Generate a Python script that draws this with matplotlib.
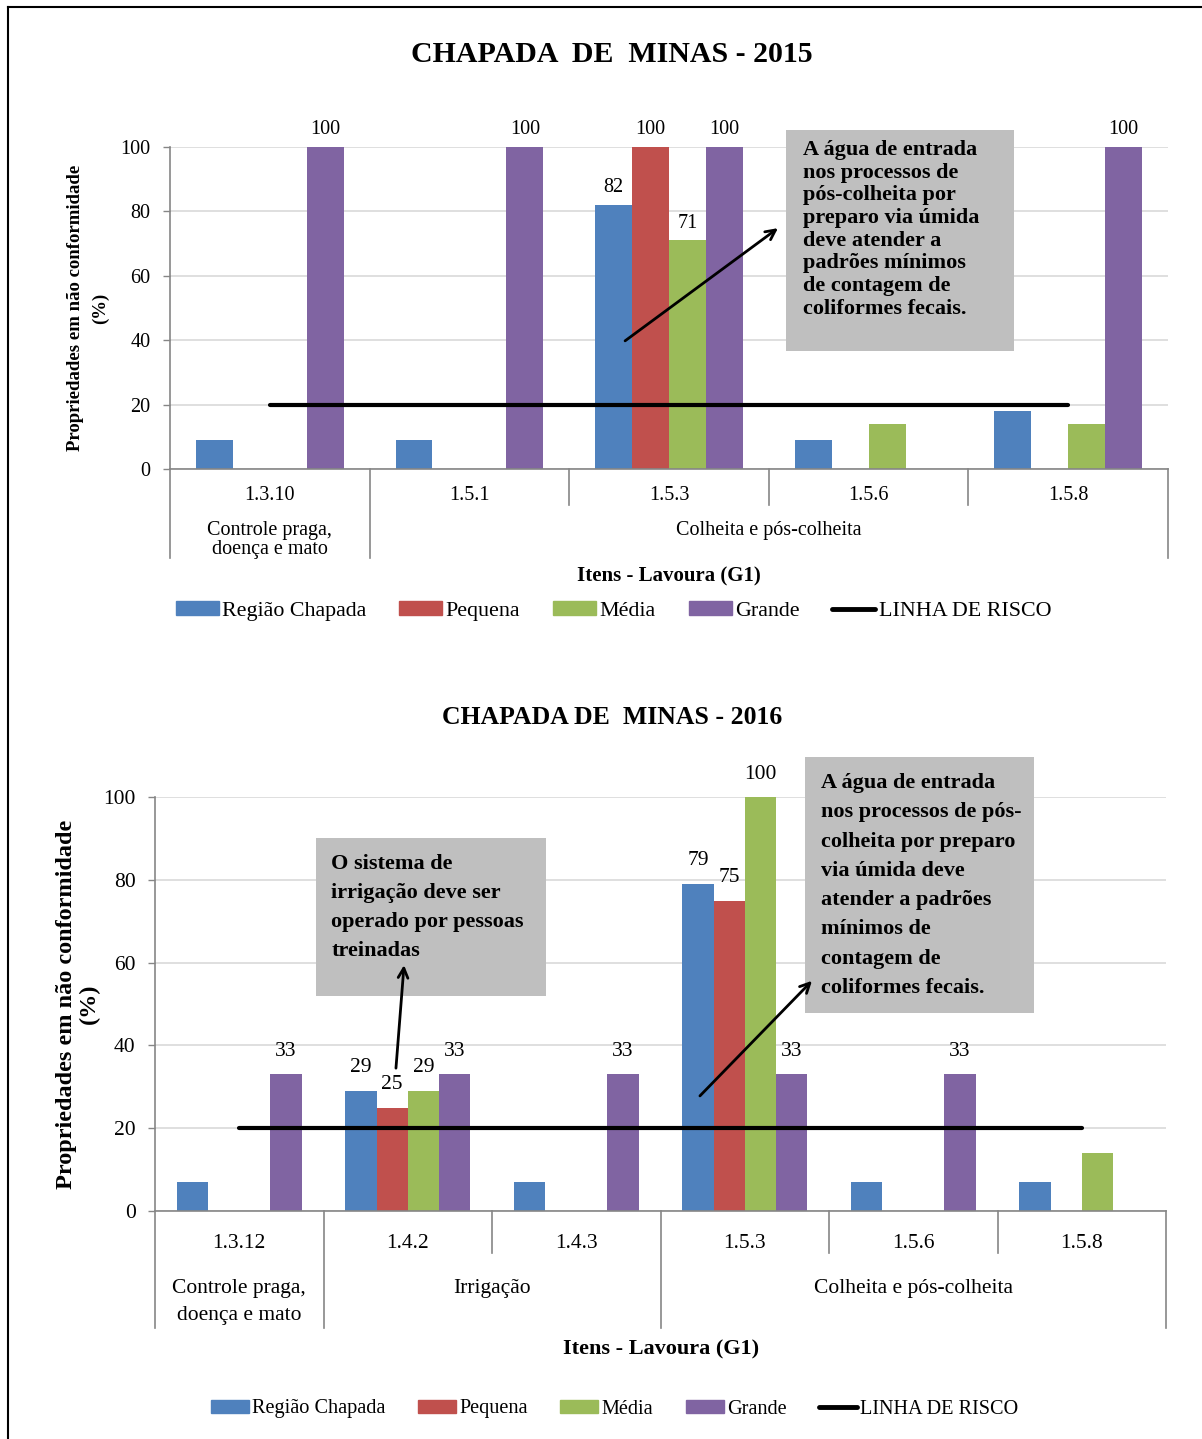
import numpy as np
import matplotlib.pyplot as plt
import matplotlib.patches as mpatches
from matplotlib.lines import Line2D

plt.rcParams['font.family'] = 'Liberation Serif'

W, H = 1202, 1439

# Series shared by both years
series = ['Região Chapada', 'Pequena', 'Média', 'Grande']
colors = ['#4f81bd', '#c0504d', '#9bbb59', '#8064a2']
risk_level = 20

# 2015 data (% of properties not conforming)
items_2015 = ['1.3.10', '1.5.1', '1.5.3', '1.5.6', '1.5.8']
regiao_2015 = [9, 9, 82, 9, 18]
pequena_2015 = [0, 0, 100, 0, 0]
media_2015 = [0, 0, 71, 14, 14]
grande_2015 = [100, 100, 100, 0, 100]
groups_2015 = [('Controle praga,\ndoença e mato', 0, 0),
               ('Colheita e pós-colheita', 1, 4)]

# 2016 data
items_2016 = ['1.3.12', '1.4.2', '1.4.3', '1.5.3', '1.5.6', '1.5.8']
regiao_2016 = [7, 29, 7, 79, 7, 7]
pequena_2016 = [0, 25, 0, 75, 0, 0]
media_2016 = [0, 29, 0, 100, 0, 14]
grande_2016 = [33, 33, 33, 33, 33, 0]
groups_2016 = [('Controle praga,\ndoença e mato', 0, 0),
               ('Irrigação', 1, 2),
               ('Colheita e pós-colheita', 3, 5)]

note_agua_2015 = ('A água de entrada\nnos processos de\npós-colheita por\npreparo via úmida\n'
                  'deve atender a\npadrões mínimos\nde contagem de\ncoliformes fecais.')
note_agua_2016 = ('A água de entrada\nnos processos de pós-\ncolheita por preparo\nvia úmida deve\n'
                  'atender a padrões\nmínimos de\ncontagem de\ncoliformes fecais.')
note_irrig_2016 = 'O sistema de\nirrigação deve ser\noperado por pessoas\ntreinadas'

fig = plt.figure(figsize=(W / 100, H / 100), dpi=100)


def px_axes(left, top, right, bottom):
    return fig.add_axes([left / W, 1 - bottom / H, (right - left) / W, (bottom - top) / H])


def draw_panel(ax, items, values, groups, fs, label_off, tick_off, grp_off,
               sep_short, sep_long, grp_ls):
    n = len(items)
    x = np.arange(n)
    width = 0.185
    for j, (vals, color) in enumerate(zip(values, colors)):
        bars = ax.bar(x + (j - 1.5) * width, vals, width, color=color, zorder=2)
        for rect, v in zip(bars, vals):
            # only the bars above the risk line carry a value label
            if v >= risk_level:
                ax.annotate(f'{v}', (rect.get_x() + rect.get_width() / 2, v),
                            xytext=(0, label_off), textcoords='offset pixels',
                            ha='center', va='center', fontsize=fs)
    ax.plot([x[0], x[-1]], [risk_level, risk_level], color='black', lw=3,
            solid_capstyle='round', zorder=4)

    ax.set_xlim(-0.5, n - 0.5)
    ax.set_ylim(0, 100)
    ax.set_yticks(range(0, 101, 20))
    ax.set_xticks([])
    ax.tick_params(axis='y', direction='out', length=5, width=1, color='#868686',
                   labelsize=fs, pad=9)
    ax.yaxis.grid(True, color='#d9d9d9', lw=1.2)
    ax.set_axisbelow(True)
    for side in ['top', 'right']:
        ax.spines[side].set_visible(False)
    for side in ['left', 'bottom']:
        ax.spines[side].set_color('#868686')
        ax.spines[side].set_linewidth(1.2)

    # two-level category axis: item codes and their groups
    trans = ax.get_xaxis_transform()
    axh = ax.get_position().height * H
    long_edges = {g[1] - 0.5 for g in groups} | {n - 0.5}
    for b in np.arange(n + 1) - 0.5:
        length = sep_long if b in long_edges else sep_short
        ax.plot([b, b], [0, -length / axh], transform=trans, color='#868686',
                lw=1.2, clip_on=False)
    for i, item in enumerate(items):
        ax.annotate(item, (i, 0), xycoords=trans, xytext=(0, -tick_off),
                    textcoords='offset pixels', ha='center', va='center', fontsize=fs)
    for name, a, b in groups:
        ax.annotate(name, ((a + b) / 2, 0), xycoords=trans, xytext=(0, -grp_off),
                    textcoords='offset pixels', ha='center', va='top', fontsize=fs,
                    linespacing=grp_ls)


def note(ax, text, x0, x1, y0, y1, tx, ty, fs, ls):
    ax.add_patch(mpatches.Rectangle((x0, y0), x1 - x0, y1 - y0, facecolor='#bfbfbf',
                                    edgecolor='none', zorder=5, clip_on=False))
    ax.text(tx, ty, text, ha='left', va='top', fontsize=fs, fontweight='bold',
            linespacing=ls, zorder=6, clip_on=False)


def pointer(ax, start, end):
    ax.annotate('', xy=end, xytext=start,
                arrowprops=dict(arrowstyle='->,head_length=0.7,head_width=0.35',
                                color='black', lw=2, shrinkA=0, shrinkB=0),
                zorder=7, annotation_clip=False)


def legend(fs, left_px, y_px, hl, cs):
    handles = [mpatches.Patch(color=c) for c in colors]
    handles.append(Line2D([], [], color='black', lw=3.5, solid_capstyle='round'))
    fig.legend(handles, series + ['LINHA DE RISCO'], loc='center left',
               bbox_to_anchor=(left_px / W, 1 - y_px / H), ncol=5, frameon=False,
               fontsize=fs, handlelength=hl, handleheight=0.6, handletextpad=0.15,
               columnspacing=cs, borderpad=0, borderaxespad=0)


# ---- 2015 ----
ax1 = px_axes(170, 147, 1168, 469)
draw_panel(ax1, items_2015, [regiao_2015, pequena_2015, media_2015, grande_2015],
           groups_2015, fs=14.5, label_off=17, tick_off=26, grp_off=52,
           sep_short=36, sep_long=89, grp_ls=1.0)
note(ax1, note_agua_2015, 2.586, 3.728, 36.6, 105.3, 2.671, 102.2, fs=16, ls=1.18)
pointer(ax1, (1.78, 39.8), (2.546, 74.8))
fig.text(612 / W, 1 - 55 / H, 'CHAPADA  DE  MINAS - 2015', ha='center', va='center',
         fontsize=21.5, fontweight='bold')
fig.text(669 / W, 1 - 576 / H, 'Itens - Lavoura (G1)', ha='center', va='center',
         fontsize=15, fontweight='bold')
fig.text(88 / W, 1 - 308 / H, 'Propriedades em não conformidade\n(%)', rotation=90,
         ha='center', va='center', multialignment='center', fontsize=13.5,
         fontweight='bold', linespacing=1.55)
legend(15.8, 176, 611, 1.96, 1.5)

# ---- 2016 ----
ax2 = px_axes(155, 797, 1166, 1211)
draw_panel(ax2, items_2016, [regiao_2016, pequena_2016, media_2016, grande_2016],
           groups_2016, fs=15.5, label_off=23, tick_off=32, grp_off=68,
           sep_short=42, sep_long=117, grp_ls=1.55)
note(ax2, note_irrig_2016, 0.455, 1.820, 51.9, 90.1, 0.545, 86.2, fs=16, ls=1.6)
note(ax2, note_agua_2016, 3.358, 4.717, 47.8, 109.7, 3.452, 105.8, fs=16, ls=1.62)
pointer(ax2, (0.930, 34.5), (0.978, 59.4))
pointer(ax2, (2.734, 27.8), (3.399, 55.6))
fig.text(612 / W, 1 - 717 / H, 'CHAPADA DE  MINAS - 2016', ha='center', va='center',
         fontsize=18.5, fontweight='bold')
fig.text(661 / W, 1 - 1349 / H, 'Itens - Lavoura (G1)', ha='center', va='center',
         fontsize=16, fontweight='bold')
fig.text(78 / W, 1 - 1004 / H, 'Propriedades em não conformidade\n(%)', rotation=90,
         ha='center', va='center', multialignment='center', fontsize=17.5,
         fontweight='bold', linespacing=1.15)
legend(14.6, 211, 1409, 1.87, 1.62)

# outer frame (left and top edges)
fig.add_artist(Line2D([8 / W, 8 / W], [0, 1 - 7 / H], color='black', lw=1.5,
                      transform=fig.transFigure))
fig.add_artist(Line2D([8 / W, 1], [1 - 7 / H, 1 - 7 / H], color='black', lw=1.5,
                      transform=fig.transFigure))

fig.savefig('out.png', dpi=100)
